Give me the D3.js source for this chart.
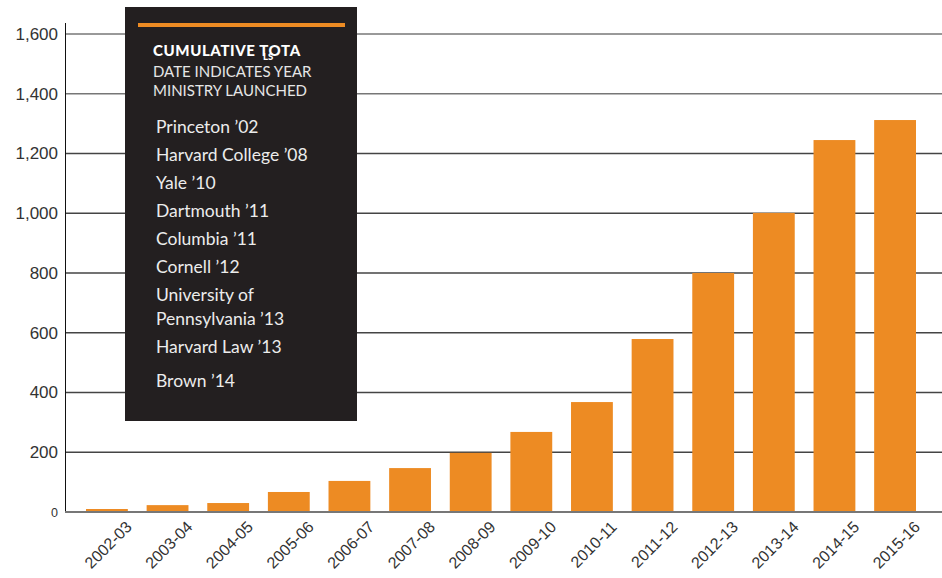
<!DOCTYPE html>
<html><head><meta charset="utf-8">
<script src="https://cdn.jsdelivr.net/npm/d3@7"></script>
<style>body{margin:0;background:#fff;}svg{display:block;font-family:Lato,"Open Sans",sans-serif;}</style>
</head><body>
<svg id="c" width="942" height="578"></svg>
<script>
const categories = ["2002-03","2003-04","2004-05","2005-06","2006-07","2007-08","2008-09","2009-10","2010-11","2011-12","2012-13","2013-14","2014-15","2015-16"];
const totals = [10,23,30,67,104,147,198,268,368,579,800,1001,1245,1312];
const yTicks = [0,200,400,600,800,1000,1200,1400,1600];
const legendItems = [["Princeton ’02"],["Harvard College ’08"],["Yale ’10"],["Dartmouth ’11"],["Columbia ’11"],["Cornell ’12"],["University of","Pennsylvania ’13"],["Harvard Law ’13"],["Brown  ’14"]];

const svg = d3.select("#c");
const x = d3.scaleBand().domain(categories).range([64,938]).paddingInner(0.31).paddingOuter(0.363);
const y = d3.scaleLinear().domain([0,1600]).range([512,34]);

// gridlines
svg.append("g").selectAll("line").data(yTicks.filter(d=>d>0)).join("line")
  .attr("x1",65).attr("x2",942).attr("y1",d=>y(d)).attr("y2",d=>y(d))
  .attr("stroke",d=>d>=1400?"#777":"#444").attr("stroke-width",1.3);

// y axis
const ya = svg.append("g").attr("transform","translate(65,0)")
  .call(d3.axisLeft(y).tickValues(yTicks).tickSize(0).tickPadding(7).tickFormat(d3.format(",")));
ya.select(".domain").remove();
ya.selectAll("text").attr("fill","#333").style("font-size",d=>d===0?"12.5px":"17px").attr("dy","0.32em");
svg.append("line").attr("x1",65.5).attr("x2",65.5).attr("y1",23).attr("y2",512).attr("stroke","#111").attr("stroke-width",1);

// bars
svg.append("g").selectAll("rect").data(totals).join("rect")
  .attr("x",(d,i)=>x(categories[i])).attr("width",x.bandwidth())
  .attr("y",d=>y(d)).attr("height",d=>y(0)-y(d)).attr("fill","#ED8B23");

// baseline
svg.append("line").attr("x1",65).attr("x2",942).attr("y1",512).attr("y2",512).attr("stroke","#777").attr("stroke-width",2);

// x labels
const xa = svg.append("g").attr("transform","translate(0,512)")
  .call(d3.axisBottom(x).tickSize(0).tickPadding(0));
xa.select(".domain").remove();
xa.selectAll("text").attr("text-anchor","end").attr("fill","#333").style("font-size","16px")
  .attr("transform","translate(22,12) rotate(-45)").attr("dy","0.35em").attr("y",0);

// legend box
const lg = svg.append("g");
lg.append("rect").attr("x",125).attr("y",7).attr("width",232).attr("height",414).attr("fill","#231f20");
lg.append("rect").attr("x",138).attr("y",23).attr("width",207).attr("height",4).attr("fill","#ED8B23");
lg.append("text").attr("x",153).attr("y",56).attr("fill","#fff").style("font-size","15px").style("font-weight","900").style("letter-spacing","0.6px").text("CUMULATIVE TOTA");
lg.append("text").attr("x",263).attr("y",60).attr("fill","#fff").style("font-size","9.5px").style("font-weight","900").text("LS");
lg.append("text").attr("x",153).attr("y",77).attr("fill","#e6e6e6").style("font-size","15px").text("DATE  INDICATES YEAR");
lg.append("text").attr("x",153).attr("y",96).attr("fill","#e6e6e6").style("font-size","15px").text("MINISTRY LAUNCHED");
const itemY = [[133],[161],[189],[217],[245],[273],[301,325],[353],[387]];
legendItems.forEach((lines,i)=>{
  lines.forEach((t,j)=>{
    lg.append("text").attr("x",156).attr("y",itemY[i][j]).attr("fill","#ececec").style("font-size","17.5px").text(t);
  });
});
</script>
</body></html>
